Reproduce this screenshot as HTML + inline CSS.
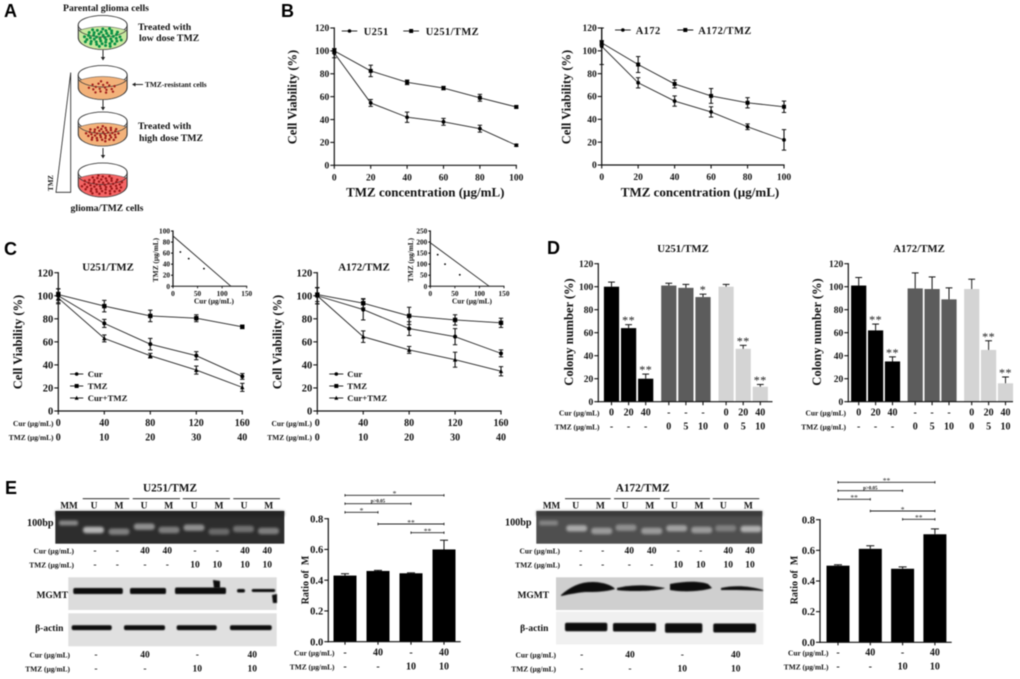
<!DOCTYPE html>
<html>
<head>
<meta charset="utf-8">
<style>
html,body{margin:0;padding:0;background:#fff;width:1020px;height:679px;overflow:hidden}
#fig{display:block;filter:blur(0.5px)}
text{font-family:"Liberation Serif",serif;font-weight:bold;fill:#111}
.letter{font-family:"Liberation Sans",sans-serif;font-size:18px;fill:#000}
.mid{text-anchor:middle}
.end{text-anchor:end}
.a9{font-size:10.2px}
.ax{font-size:12.5px}
.axx{font-size:13px}
.leg{font-size:10.5px;letter-spacing:.4px}
.leg7{font-size:8.7px}
.ttl{font-size:10.8px}
.ttl8{font-size:10.8px}
.unit{font-size:7.4px}
</style>
</head>
<body>
<svg id="fig" xmlns="http://www.w3.org/2000/svg" width="1020" height="679" viewBox="0 0 1020 679">
<defs>
<filter id="soft" x="-30%" y="-80%" width="160%" height="260%"><feGaussianBlur stdDeviation="1.3"/></filter>
<filter id="softer" x="-30%" y="-100%" width="160%" height="300%"><feGaussianBlur stdDeviation="0.5"/></filter>
</defs>

<!-- Panel letters -->
<text class="letter" x="4" y="17">A</text>
<text class="letter" x="281" y="17">B</text>
<text class="letter" x="4" y="255">C</text>
<text class="letter" x="547" y="254">D</text>
<text class="letter" x="5" y="494">E</text>

<!-- Panel A -->
<g id="panelA">
<text class="mid" x="106" y="11" font-size="9.7">Parental glioma cells</text>
<text x="138" y="30" font-size="9.8">Treated with</text>
<text x="139" y="41" font-size="9.8">low dose TMZ</text>
<text x="145" y="87" font-size="7.4">TMZ-resistant cells</text>
<text x="138" y="129" font-size="9.8">Treated with</text>
<text x="139" y="141" font-size="9.8">high dose TMZ</text>
<text class="mid" x="107" y="211" font-size="9.7">glioma/TMZ cells</text>
<polygon points="70.7,72.5 70.7,192.3 56,192.3" fill="#fff" stroke="#222" stroke-width=".8"/>
<text class="mid" transform="translate(53,183) rotate(-90)" font-size="7">TMZ</text>
</g>

<!-- Panel B text -->
<text class="mid ax" transform="translate(296.5,97) rotate(-90)">Cell Viability (%)</text>
<text class="mid axx" x="425.3" y="196.5">TMZ concentration (µg/mL)</text>
<text class="leg" x="363.7" y="35">U251</text>
<text class="leg" x="425.7" y="35">U251/TMZ</text>
<text class="mid ax" transform="translate(570.5,97) rotate(-90)">Cell Viability (%)</text>
<text class="mid axx" x="700" y="196.5">TMZ concentration (µg/mL)</text>
<text class="leg" x="635.7" y="34">A172</text>
<text class="leg" x="698.3" y="34">A172/TMZ</text>

<!-- Panel C text -->
<text class="mid ttl" x="108" y="270.5">U251/TMZ</text>
<text class="mid ttl" x="364" y="270.5">A172/TMZ</text>
<text class="mid ax" transform="translate(22,342) rotate(-90)">Cell Viability (%)</text>
<text class="mid ax" transform="translate(281.5,342) rotate(-90)">Cell Viability (%)</text>
<text class="leg7" x="87.7" y="377">Cur</text>
<text class="leg7" x="87.7" y="389">TMZ</text>
<text class="leg7" x="87.7" y="401">Cur+TMZ</text>
<text class="leg7" x="347.3" y="377">Cur</text>
<text class="leg7" x="347.3" y="389">TMZ</text>
<text class="leg7" x="347.3" y="401">Cur+TMZ</text>
<text class="end unit" x="53.5" y="426">Cur (µg/mL)</text>
<text class="end unit" x="53.5" y="440">TMZ (µg/mL)</text>
<text class="end unit" x="312" y="426">Cur (µg/mL)</text>
<text class="end unit" x="312" y="440">TMZ (µg/mL)</text>
<text class="mid" x="214" y="303.5" font-size="7.3">Cur (µg/mL)</text>
<text class="mid" transform="translate(158,260) rotate(-90)" font-size="7.3">TMZ (µg/mL)</text>
<text class="mid" x="472" y="303.5" font-size="7.3">Cur (µg/mL)</text>
<text class="mid" transform="translate(413,260) rotate(-90)" font-size="7.3">TMZ (µg/mL)</text>

<!-- Panel D text -->
<text class="mid ttl8" x="683" y="252">U251/TMZ</text>
<text class="mid ttl8" x="919" y="252">A172/TMZ</text>
<text class="mid ax" transform="translate(573,332) rotate(-90)">Colony number (%)</text>
<text class="mid ax" transform="translate(821,332) rotate(-90)">Colony number (%)</text>
<text class="end unit" x="599.5" y="415.5">Cur (µg/mL)</text>
<text class="end unit" x="599.5" y="429.5">TMZ (µg/mL)</text>
<text class="end unit" x="846" y="415.5">Cur (µg/mL)</text>
<text class="end unit" x="846" y="429.5">TMZ (µg/mL)</text>

<!-- Panel E text -->
<text class="mid" x="170" y="491.5" font-size="11.3">U251/TMZ</text>
<text class="mid" x="642.7" y="491.5" font-size="11.3">A172/TMZ</text>
<text class="mid a9" x="40.3" y="526">100bp</text>
<text class="mid a9" x="518.3" y="525.5">100bp</text>
<text class="mid" x="69" y="508.5" font-size="9.2">MM</text>
<text class="mid" x="551.5" y="508.5" font-size="9.2">MM</text>
<text class="mid" x="52.3" y="598" font-size="9.5">MGMT</text>
<text class="mid" x="533.3" y="598" font-size="9.5">MGMT</text>
<text class="mid" x="49.3" y="631" font-size="9.5">β-actin</text>
<text class="mid" x="534.3" y="631" font-size="9.5">β-actin</text>
<text class="end unit" x="74" y="553.5">Cur (µg/mL)</text>
<text class="end unit" x="74" y="567.5">TMZ (µg/mL)</text>
<text class="end unit" x="560" y="553.5">Cur (µg/mL)</text>
<text class="end unit" x="560" y="567.5">TMZ (µg/mL)</text>
<text class="end unit" x="70" y="657.5">Cur (µg/mL)</text>
<text class="end unit" x="70" y="671.5">TMZ (µg/mL)</text>
<text class="end unit" x="556" y="657.5">Cur (µg/mL)</text>
<text class="end unit" x="556" y="671.5">TMZ (µg/mL)</text>
<text class="end unit" x="334.5" y="655.5">Cur (µg/mL)</text>
<text class="end unit" x="334.5" y="669.5">TMZ (µg/mL)</text>
<text class="end unit" x="828.5" y="655.5">Cur (µg/mL)</text>
<text class="end unit" x="828.5" y="669.5">TMZ (µg/mL)</text>
<text class="mid" transform="translate(308.5,580) rotate(-90)" font-size="10" xml:space="preserve">Ratio of  M</text>
<text class="mid" transform="translate(797.5,580) rotate(-90)" font-size="10" xml:space="preserve">Ratio of  M</text>

<g id="dynamic"></g>
</svg>

<script>
// ---- Panel B data ----
const doseB = [0, 20, 40, 60, 80, 100];
const tickBX = [0, 20, 40, 60, 80, 100];
const tickY120 = [0, 20, 40, 60, 80, 100, 120];
const u251 = [98, 54.5, 42, 38, 32, 17.5];
const u251Err = [4, 3, 4.5, 3, 3, 1];
const u251Tmz = [100, 82.5, 72.5, 67.5, 59, 51];
const u251TmzErr = [2, 5, 2, 1.5, 3, 1];
const a172 = [104, 72, 56, 46.5, 33.5, 22];
const a172Err = [16, 4.5, 4.5, 4.5, 2.5, 9];
const a172Tmz = [107, 88, 71, 60.5, 54.5, 51];
const a172TmzErr = [2, 7, 3.5, 6.5, 4.5, 5];

// ---- Panel C data ----
const doseCur = [0, 40, 80, 120, 160];
const doseTmzC = [0, 10, 20, 30, 40];
const cLeftCur = [100, 76, 58, 48, 30];
const cLeftCurErr = [6, 3.5, 5, 3.5, 2.5];
const cLeftTmz = [101, 91, 82.5, 80.5, 73];
const cLeftTmzErr = [5, 5, 5, 3, 1.5];
const cLeftCombo = [98, 63, 48, 35.5, 20.5];
const cLeftComboErr = [5, 3, 2, 3.5, 3.5];
const cRightCur = [100, 88, 71.5, 64.5, 50];
const cRightCurErr = [7, 9, 6, 7, 3];
const cRightTmz = [101, 93.5, 82.5, 79, 76.5];
const cRightTmzErr = [6, 4, 7.5, 4.5, 4];
const cRightCombo = [100, 64.5, 53, 44.5, 34.5];
const cRightComboErr = [7, 5, 3, 6.5, 4];

// ---- Panel C isobologram insets ----
const insetXTicks = [0, 50, 100, 150];
const insetLeftYTicks = [0, 20, 40, 60, 80, 100];
const insetRightYTicks = [0, 50, 100, 150, 200, 250];
const insetLeftLineX = [0, 118];
const insetLeftLineY = [91, 0];
const insetLeftPtX = [15, 32, 63];
const insetLeftPtY = [62, 50, 32];
const insetRightLineX = [0, 120];
const insetRightLineY = [197, 0];
const insetRightPtX = [15, 30, 60];
const insetRightPtY = [143, 100, 52];

// ---- Panel D data ----
const colonyCur = ['0', '20', '40', '-', '-', '-', '0', '20', '40'];
const colonyTmz = ['-', '-', '-', '0', '5', '10', '0', '5', '10'];
const colonyLeft = [100, 64, 20, 101, 99, 91, 100, 46, 13];
const colonyLeftErr = [4, 3, 4, 2, 3, 2.5, 2, 3, 2];
const colonyLeftStars = ['', '**', '**', '', '', '*', '', '**', '**'];
const colonyRight = [101, 62, 35, 98.5, 98, 89, 98, 45, 16];
const colonyRightErr = [7, 5.5, 4, 13.5, 10.5, 10, 8.5, 8, 5.5];
const colonyRightStars = ['', '**', '**', '', '', '', '', '**', '**'];

// ---- Panel E data ----
const ratioTicks = ['0.0', '0.2', '0.4', '0.6', '0.8'];
const ratioCur = ['-', '40', '-', '40'];
const ratioTmz = ['-', '-', '10', '10'];
const ratioLeft = [0.43, 0.46, 0.445, 0.6];
const ratioLeftErr = [0.012, 0.004, 0.003, 0.06];
const ratioRight = [0.5, 0.61, 0.48, 0.705];
const ratioRightErr = [0.006, 0.02, 0.012, 0.035];
const sigLeft = [['*', 0, 3], ['p>0.05', 0, 2], ['*', 0, 1], ['**', 1, 3], ['**', 2, 3]];
const sigRight = [['**', 0, 3], ['p>0.05', 0, 2], ['**', 0, 1], ['*', 1, 3], ['**', 2, 3]];
const gelCur = ['-', '-', '40', '40', '-', '-', '40', '40'];
const gelTmz = ['-', '-', '-', '-', '10', '10', '10', '10'];
const laneLabels = ['U', 'M', 'U', 'M', 'U', 'M', 'U', 'M'];

const root = document.getElementById('dynamic');
const NS = 'http://www.w3.org/2000/svg';

function mk(tag, attrs, name, parent) {
  const el = document.createElementNS(NS, tag);
  for (const k in attrs) el.setAttribute(k, attrs[k]);
  
  
  (parent || root).appendChild(el);
  return el;
}
function txt(s, x, y, size, anchor, name, parent) {
  const el = mk('text', {x: x, y: y, 'font-size': size, 'text-anchor': anchor}, name, parent);
  el.textContent = s;
  return el;
}
function line(x1, y1, x2, y2, w, name, parent, color) {
  return mk('line', {x1: x1, y1: y1, x2: x2, y2: y2, stroke: color || '#111', 'stroke-width': w}, name, parent);
}
function linear(d0, d1, r0, r1) {
  return function (v) { return r0 + (v - d0) * (r1 - r0) / (d1 - d0); };
}
function marker(kind, x, y, s, name, parent) {
  if (kind === 'circle') return mk('circle', {cx: x, cy: y, r: s, fill: '#000'}, name, parent);
  if (kind === 'square') return mk('rect', {x: x - s, y: y - s, width: 2 * s, height: 2 * s, fill: '#000'}, name, parent);
  return mk('polygon', {points: (x - s - .3) + ',' + (y + s) + ' ' + (x + s + .3) + ',' + (y + s) + ' ' + x + ',' + (y - s - .5), fill: '#000'}, name, parent);
}
function yAxis(g, sy, ax, ticks, labels, size, len, prefix) {
  const vals = ticks;
  line(ax, sy(vals[0]) + .6, ax, sy(vals[vals.length - 1]) - .6, 1.2, prefix + '-y-axis-line', g);
  vals.forEach(function (v, i) {
    line(ax - len, sy(v), ax, sy(v), 1.1, prefix + '-y-tick', g);
    txt(labels[i], ax - len - 1, sy(v) + size * .34, size, 'end', prefix + '-y-tick-label', g);
  });
}
function series(g, sx, sy, xs, ys, errs, kind, ms, prefix) {
  const pts = xs.map(function (x, i) { return sx(x) + ',' + sy(ys[i]); }).join(' ');
  mk('polyline', {points: pts, fill: 'none', stroke: '#222', 'stroke-width': .9}, prefix + '-line', g);
  xs.forEach(function (x, i) {
    const px = sx(x);
    const hi = sy(ys[i] + errs[i]);
    const lo = sy(ys[i] - errs[i]);
    line(px, hi, px, lo, 1.1, prefix + '-error-bar', g);
    line(px - 2.2, hi, px + 2.2, hi, 1, prefix + '-error-cap', g);
    line(px - 2.2, lo, px + 2.2, lo, 1, prefix + '-error-cap', g);
    marker(kind, px, sy(ys[i]), ms, prefix + '-point', g);
  });
}

// ---- Panel A dishes ----
function dish(cx, top, fill, dotColor, dots, spread, dotR, name) {
  const g = mk('g', {}, name);
  const rx = 24.5;
  mk('ellipse', {cx: cx, cy: top + 9.5, rx: rx, ry: 9.5, fill: '#fff', stroke: '#222', 'stroke-width': .8}, name + '-rim', g);
  mk('path', {d: 'M' + (cx - rx) + ' ' + (top + 9.5) + ' V' + (top + 22) + ' A' + rx + ' 12 0 0 0 ' + (cx + rx) + ' ' + (top + 22) + ' V' + (top + 9.5), fill: 'none', stroke: '#222', 'stroke-width': .8}, name + '-wall', g);
  mk('path', {d: 'M' + (cx - rx + .4) + ' ' + (top + 15) + ' Q' + cx + ' ' + (top + 7) + ' ' + (cx + rx - .4) + ' ' + (top + 15) + ' V' + (top + 22) + ' A' + (rx - .4) + ' 12 0 0 1 ' + (cx - rx + .4) + ' ' + (top + 22) + ' Z', fill: fill, stroke: '#444', 'stroke-width': .5}, name + '-medium', g);
  mk('path', {d: 'M' + (cx - rx) + ' ' + (top + 12) + ' A' + rx + ' 9.5 0 0 0 ' + (cx + rx) + ' ' + (top + 12), fill: 'none', stroke: '#333', 'stroke-width': .7}, name + '-front-edge', g);
  for (let i = 0; i < dots; i++) {
    const a = i * 2.39996;
    const r = Math.sqrt((i + .5) / dots);
    mk('circle', {cx: cx + Math.cos(a) * r * spread, cy: top + 22 + Math.sin(a) * r * spread * .48, r: dotR, fill: dotColor}, name + '-cell', g);
  }
}
dish(102.7, 15.5, '#c8e89e', '#0a9146', 46, 20, 1.5, 'dish-parental');
dish(102.7, 65.5, '#f3b27a', '#a3201c', 18, 14, 1.2, 'dish-resistant');
dish(102.7, 112, '#f3b27a', '#a3201c', 40, 17, 1.25, 'dish-high-dose');
dish(102.7, 163, '#f56565', '#9c1a1a', 52, 21, 1.25, 'dish-glioma-tmz');
[[50, 60], [100, 110], [148, 158]].forEach(function (p) {
  line(103, p[0], 103, p[1] - 2, .9, 'workflow-arrow-shaft');
  mk('polygon', {points: '100.8,' + (p[1] - 3) + ' 105.2,' + (p[1] - 3) + ' 103,' + (p[1] + .5), fill: '#222'}, 'workflow-arrow-head');
});
line(143, 84.5, 134, 84.5, .9, 'resistant-arrow-shaft');
mk('polygon', {points: '135.5,82.5 135.5,86.5 132,84.5', fill: '#222'}, 'resistant-arrow-head');

// ---- Panel B charts ----
function chartB(x0, x1, y0, y1, a, aErr, b, bErr, prefix) {
  const g = mk('g', {}, prefix + '-chart');
  const sx = linear(0, 100, x0, x1);
  const sy = linear(0, 120, y0, y1);
  yAxis(g, sy, x0, tickY120, tickY120.map(String), 9.5, 4, prefix);
  line(x0 - .6, y0, x1 + .6, y0, 1.2, prefix + '-x-axis-line', g);
  tickBX.forEach(function (t) {
    line(sx(t), y0, sx(t), y0 + 3.5, 1.1, prefix + '-x-tick', g);
    txt(String(t), sx(t), y0 + 15, 9.5, 'middle', prefix + '-x-tick-label', g);
  });
  series(g, sx, sy, doseB, a, aErr, 'circle', 1.9, prefix + '-series-a');
  series(g, sx, sy, doseB, b, bErr, 'square', 2, prefix + '-series-b');
}
chartB(334.3, 516.3, 165.3, 28, u251, u251Err, u251Tmz, u251TmzErr, 'b-left');
chartB(601.7, 784, 165, 28, a172, a172Err, a172Tmz, a172TmzErr, 'b-right');
function legendMark(x1, x2, y, kind, ms, name) {
  line(x1, y, x2, y, .9, name + '-line');
  marker(kind, (x1 + x2) / 2, y, ms, name + '-marker');
}
legendMark(341.7, 357.3, 31, 'circle', 1.8, 'legend-key-u251');
legendMark(403.3, 419, 31, 'square', 2, 'legend-key-u251-tmz');
legendMark(615, 630.7, 30, 'circle', 1.8, 'legend-key-a172');
legendMark(677.3, 693.3, 30, 'square', 2, 'legend-key-a172-tmz');

// ---- Panel C charts ----
function chartC(x0, x1, y0, y1, cur, curE, tmz, tmzE, combo, comboE, prefix) {
  const g = mk('g', {}, prefix + '-chart');
  const sx = linear(0, 160, x0, x1);
  const sy = linear(0, 120, y0, y1);
  yAxis(g, sy, x0, tickY120, tickY120.map(String), 10.5, 4, prefix);
  line(x0 - .6, y0, x1 + .6, y0, 1.2, prefix + '-x-axis-line', g);
  doseCur.forEach(function (t, i) {
    line(sx(t), y0, sx(t), y0 + 3.5, 1.1, prefix + '-x-tick', g);
    txt(String(t), sx(t), 426, 10, 'middle', prefix + '-cur-dose-label', g);
    txt(String(doseTmzC[i]), sx(t), 440.5, 10, 'middle', prefix + '-tmz-dose-label', g);
  });
  series(g, sx, sy, doseCur, combo, comboE, 'tri', 1.9, prefix + '-series-combo');
  series(g, sx, sy, doseCur, cur, curE, 'circle', 2, prefix + '-series-cur');
  series(g, sx, sy, doseCur, tmz, tmzE, 'square', 2.2, prefix + '-series-tmz');
}
chartC(58.3, 242.3, 411, 272.7, cLeftCur, cLeftCurErr, cLeftTmz, cLeftTmzErr, cLeftCombo, cLeftComboErr, 'c-left');
chartC(317.3, 501, 411, 272.7, cRightCur, cRightCurErr, cRightTmz, cRightTmzErr, cRightCombo, cRightComboErr, 'c-right');
legendMark(70, 83.3, 374, 'circle', 1.8, 'c-left-key-cur');
legendMark(70, 83.3, 386, 'square', 2, 'c-left-key-tmz');
legendMark(70, 83.3, 398, 'tri', 1.7, 'c-left-key-combo');
legendMark(329.3, 343.3, 374, 'circle', 1.8, 'c-right-key-cur');
legendMark(329.3, 343.3, 386, 'square', 2, 'c-right-key-tmz');
legendMark(329.3, 343.3, 398, 'tri', 1.7, 'c-right-key-combo');

function inset(x0, x1, y0, y1, yMax, yTicks, lx, ly, px, py, prefix) {
  const g = mk('g', {}, prefix);
  const sx = linear(0, 150, x0, x1);
  const sy = linear(0, yMax, y0, y1);
  yAxis(g, sy, x0, yTicks, yTicks.map(String), 7.3, 2, prefix);
  line(x0 - .5, y0, x1 + .5, y0, 1, prefix + '-x-axis-line', g);
  insetXTicks.forEach(function (t) {
    line(sx(t), y0, sx(t), y0 + 2, .9, prefix + '-x-tick', g);
    txt(String(t), sx(t), y0 + 9.5, 7.3, 'middle', prefix + '-x-tick-label', g);
  });
  line(sx(lx[0]), sy(ly[0]), sx(lx[1]), sy(ly[1]), .9, prefix + '-additivity-line', g, '#222');
  px.forEach(function (v, i) {
    mk('circle', {cx: sx(v), cy: sy(py[i]), r: .9, fill: '#000'}, prefix + '-point', g);
  });
}
inset(173, 246.7, 286.3, 231, 100, insetLeftYTicks, insetLeftLineX, insetLeftLineY, insetLeftPtX, insetLeftPtY, 'inset-left');
inset(430.3, 504, 286.3, 231, 250, insetRightYTicks, insetRightLineX, insetRightLineY, insetRightPtX, insetRightPtY, 'inset-right');

// ---- Panel D charts ----
const colonyFills = ['#000', '#000', '#000', '#5c5c5c', '#5c5c5c', '#5c5c5c', '#d4d4d4', '#d4d4d4', '#d4d4d4'];
function bandPos(i, x0, step, gap) {
  const grp = Math.floor(i / 3);
  return x0 + i * step + grp * gap;
}
function chartD(ax, axEnd, first, step, gap, vals, errs, stars, prefix) {
  const g = mk('g', {}, prefix + '-chart');
  const y0 = 401.7;
  const sy = linear(0, 120, y0, 263.7);
  vals.forEach(function (v, i) {
    const cx = bandPos(i, first, step, gap);
    mk('rect', {x: cx - 7.6, y: sy(v), width: 15.2, height: y0 - sy(v), fill: colonyFills[i]}, prefix + '-bar', g);
    const top = sy(v + errs[i]);
    line(cx, sy(v), cx, top, 1, prefix + '-error-bar', g, i > 5 ? '#222' : '#111');
    line(cx - 3.4, top, cx + 3.4, top, 1, prefix + '-error-cap', g, '#111');
    if (stars[i]) {
      const st = txt(stars[i], cx, top - 0.5, 12, 'middle', prefix + '-significance', g);
      st.setAttribute('style', 'letter-spacing:.5px;font-weight:normal');
    }
    line(cx, y0, cx, y0 + 3.5, 1.1, prefix + '-x-tick', g);
    txt(colonyCur[i], cx, 415.5, 10, 'middle', prefix + '-cur-label', g);
    txt(colonyTmz[i], cx, 429.5, 10, 'middle', prefix + '-tmz-label', g);
  });
  yAxis(g, sy, ax, tickY120, tickY120.map(String), 9.5, 4, prefix);
  line(ax - .6, y0, axEnd, y0, 1.2, prefix + '-x-axis-line', g);
}
chartD(598.3, 772.5, 611.5, 17.1, 6, colonyLeft, colonyLeftErr, colonyLeftStars, 'd-left');
chartD(848.3, 1013, 858.7, 16.9, 5.8, colonyRight, colonyRightErr, colonyRightStars, 'd-right');

// ---- Panel E bar charts ----
function chartE(ax, axEnd, y0, y8, first, step, vals, errs, sig, sigY, prefix) {
  const g = mk('g', {}, prefix + '-chart');
  const sy = linear(0, 0.8, y0, y8);
  const sx = function (i) { return first + i * step; };
  vals.forEach(function (v, i) {
    const cx = sx(i);
    mk('rect', {x: cx - 11.5, y: sy(v), width: 23, height: y0 - sy(v), fill: '#000'}, prefix + '-bar', g);
    const top = sy(v + errs[i]);
    line(cx, sy(v), cx, top, 1, prefix + '-error-bar', g);
    line(cx - 4, top, cx + 4, top, 1, prefix + '-error-cap', g);
    line(cx, y0, cx, y0 + 3, 1.1, prefix + '-x-tick', g);
    txt(ratioCur[i], cx, 655.5, 10, 'middle', prefix + '-cur-label', g);
    txt(ratioTmz[i], cx, 669.5, 10, 'middle', prefix + '-tmz-label', g);
  });
  yAxis(g, sy, ax, [0, .2, .4, .6, .8], ratioTicks, 10.5, 4, prefix);
  line(ax - .6, y0, axEnd, y0, 1.2, prefix + '-x-axis-line', g);
  sig.forEach(function (s, i) {
    const y = sigY[i];
    line(sx(s[1]), y, sx(s[2]), y, .9, prefix + '-significance-bar', g, '#222');
    line(sx(s[1]), y - 1.2, sx(s[1]), y + 1.2, .9, prefix + '-significance-end', g, '#222');
    line(sx(s[2]), y - 1.2, sx(s[2]), y + 1.2, .9, prefix + '-significance-end', g, '#222');
    const isP = s[0].length > 2;
    const st = txt(s[0], (sx(s[1]) + sx(s[2])) / 2, isP ? y - 1.2 : y + .8, isP ? 5 : 7.5, 'middle', prefix + '-significance-label', g);
    if (!isP) st.setAttribute('style', 'font-weight:normal');
  });
}
chartE(328.3, 460.7, 641.7, 518.7, 345, 33, ratioLeft, ratioLeftErr, sigLeft, [495.3, 503.7, 512.3, 524, 532.7], 'e-left');
chartE(820, 951.7, 642.3, 519.7, 838, 32.3, ratioRight, ratioRightErr, sigRight, [482.3, 490.7, 499.3, 511, 519.3], 'e-right');

// ---- Panel E gels and blots (illustrative imagery) ----
function gel(x, w, bg, edge, bandColor, mmX, mmY, mmO, laneXs, ys, ops, prefix) {
  const g = mk('g', {}, prefix);
  mk('rect', {x: x, y: 511, width: w, height: 32.7, fill: bg}, prefix + '-background', g);
  mk('rect', {x: x, y: 511, width: w, height: 5, fill: edge, opacity: .6, filter: 'url(#soft)'}, prefix + '-top-shade', g);
  mk('rect', {x: mmX - 9.5, y: mmY - 2.5, width: 19, height: 5, rx: 2, fill: bandColor, opacity: mmO, filter: 'url(#soft)'}, prefix + '-marker-band', g);
  laneXs.forEach(function (lx, i) {
    mk('rect', {x: lx - 10.5, y: ys[i] - 3.2, width: 21, height: 6.4, rx: 3, fill: bandColor, opacity: ops[i], filter: 'url(#soft)'}, prefix + '-band', g);
  });
}
gel(55.3, 229, '#2d2d2d', '#1c1c1c', '#e2e2e2', 68.5, 523, .5,
  [93.5, 119, 144.3, 169, 194, 219, 243.5, 268.5], [530, 531.7, 526.7, 530, 527.7, 531.7, 529, 531],
  [.75, .45, .55, .45, .55, .33, .38, .45], 'e-left-gel');
gel(536.3, 226, '#4f4f4f', '#2a2a2a', '#e6e6e6', 548.5, 523, .35,
  [576.7, 601.7, 626, 651.7, 676.7, 701.7, 725.7, 751], [528.3, 531, 527.7, 531, 528.3, 530, 528.3, 529],
  [.6, .5, .42, .5, .55, .5, .32, .65], 'e-right-gel');

function blot(x, w, y, h, bg, bands, spots, prefix) {
  const g = mk('g', {}, prefix);
  mk('rect', {x: x, y: y, width: w, height: h, fill: bg}, prefix + '-background', g);
  bands.forEach(function (b) {
    mk('rect', {x: b[0], y: b[1], width: b[2], height: b[3], rx: 1.8, fill: '#0a0a0a', filter: 'url(#softer)'}, prefix + '-band', g);
  });
  spots.forEach(function (d) {
    mk('path', {d: d, fill: '#0a0a0a', filter: 'url(#softer)'}, prefix + '-band', g);
  });
}
blot(68.3, 208.4, 577.3, 32.7, '#dcdcdc', [[73.3, 588, 49.5, 6], [130, 588, 36, 6], [175, 587.5, 51, 6.5], [237, 589, 8, 3.5], [251.7, 589, 23.5, 3]],
  ['M213,580 L220,581 L220,588 L214,588 Z', 'M272,595 L277,594 L277,603 L273,603 Z'], 'e-left-mgmt-blot');
blot(68.3, 208.4, 613.3, 33, '#e0e0e0', [[71.7, 625.3, 40, 4.8], [124, 625.3, 41, 4.8], [176.7, 625.3, 40, 4.8], [230, 625.3, 41.7, 4.8]], [], 'e-left-actin-blot');
blot(556, 207.3, 577.3, 32.7, '#cfcfcf', [], [
  'M561,595 C570,587 580,582 592,582 C602,582 612,585 615,589 C605,592 595,592 585,592 C575,593 566,595 561,596 Z',
  'M617,588 C630,585 645,584 665,588 C660,591 630,592 617,590 Z',
  'M670,584 C685,581 700,581 708,584 L712,588 C700,592 680,592 670,590 Z',
  'M721,588 C735,585 750,586 763,590 L763,591 C750,590 735,590 721,590 Z'
], 'e-right-mgmt-blot');
blot(556, 207.3, 611.7, 32.8, '#f0f0f0', [[565, 622.7, 42.3, 8.5], [613, 623, 43, 8.5], [665, 623.3, 37.3, 9.5], [713.3, 623.5, 42.7, 9]], [], 'e-right-actin-blot');

function lanes(labelXs, rowXs, segs, prefix) {
  const g = mk('g', {}, prefix + '-lane-labels');
  segs.forEach(function (s) {
    line(s[0], 498.7, s[1], 498.7, .9, prefix + '-lane-group-line', g);
  });
  laneLabels.forEach(function (l, i) {
    txt(l, labelXs[i], 508.5, 9.5, 'middle', prefix + '-lane-label', g);
    txt(gelCur[i], rowXs[i], 553.5, 9.5, 'middle', prefix + '-gel-cur-value', g);
    txt(gelTmz[i], rowXs[i], 567.5, 9.5, 'middle', prefix + '-gel-tmz-value', g);
  });
}
lanes([94, 119, 144, 168.7, 194, 219, 244, 268.7], [95, 117.3, 145, 167.3, 195, 217.3, 245, 267.3],
  [[82.7, 129.3], [132.7, 180], [182.7, 230], [233.3, 280]], 'e-left');
lanes([575.7, 600.3, 625, 649.7, 674.3, 699, 723.3, 748.3], [580.7, 602.7, 629.3, 651.7, 678.3, 700.7, 728.3, 750],
  [[565, 610.7], [614, 660], [664, 710], [712.7, 759.3]], 'e-right');

function blotRow(xs, prefix) {
  const g = mk('g', {}, prefix + '-blot-values');
  xs.forEach(function (x, i) {
    txt(ratioCur[i], x, 657.5, 9.5, 'middle', prefix + '-blot-cur-value', g);
    txt(ratioTmz[i], x, 671.5, 9.5, 'middle', prefix + '-blot-tmz-value', g);
  });
}
blotRow([96, 145, 197.3, 252.3], 'e-left');
blotRow([581.7, 630, 682.3, 735.7], 'e-right');
</script>
</body>
</html>
